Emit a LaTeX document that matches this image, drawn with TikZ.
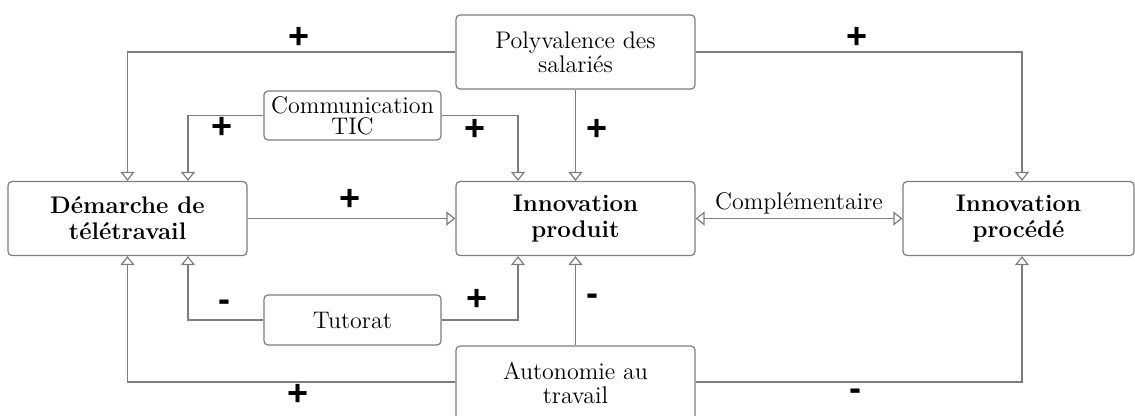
\documentclass[tikz,border=0pt]{standalone}
\usepackage{fontspec}
\newfontfamily\signfont{Liberation Sans}
\usetikzlibrary{arrows.meta,calc}
\definecolor{lncol}{RGB}{125,125,125}
\tikzset{
  box/.style={draw=lncol, line width=0.6pt, rounded corners=2pt, align=center,
    inner sep=0pt, font=\fontsize{12}{12}\selectfont},
  bigbox/.style={box, minimum width=119.5pt, minimum height=37pt},
  smallbox/.style={box, minimum width=88.5pt, minimum height=24.5pt},
  tip/.style={Triangle[open, length=4.5pt, width=7pt]},
  conn/.style={draw=lncol, line width=0.6pt, -{Triangle[open, length=4.5pt, width=7pt]}},
  sign/.style={font=\signfont\bfseries\fontsize{18}{18}\selectfont, inner sep=0pt, text=black},
}
\begin{document}
\begin{tikzpicture}[x=0.5pt, y=-0.5pt]
\useasboundingbox (0,0) rectangle (1135,416);
\clip (0,0) rectangle (1135,416);
% nodes
\node[bigbox] (poly) at (575.5,52) {Polyvalence des\\salariés};
\node[bigbox, font=\bfseries\fontsize{12}{13}\selectfont] (dem) at (127.5,218.5) {Démarche de\\télétravail};
\node[bigbox, font=\bfseries\fontsize{12}{13}\selectfont] (prod) at (575.5,218.5) {Innovation\\produit};
\node[bigbox, minimum width=115.5pt, font=\bfseries\fontsize{12}{13}\selectfont] (proc) at (1018.5,218.5) {Innovation\\procédé};
\node[smallbox, font=\fontsize{12}{10.5}\selectfont] (comm) at (352.5,115.5) {Communication\\TIC};
\node[smallbox, minimum height=25pt] (tut) at (352.5,320) {Tutorat};
\node[bigbox] (auto) at (575.5,383) {Autonomie au\\travail};
% connectors
\draw[conn] (poly.west) -| (dem.north);
\draw[conn] (poly.east) -| ($(proc.north)+(3.5,0)$);
\draw[conn] (poly.south) -- (prod.north);
\draw[conn] (comm.west) -| ($(dem.north)+(60.5,0)$);
\draw[conn] (comm.east) -| ($(prod.north)+(-57.5,0)$);
\draw[conn] (dem.east) -- (prod.west);
\draw[conn, {Triangle[open, length=4.5pt, width=7pt]}-{Triangle[open, length=4.5pt, width=7pt]}] (prod.east) -- node[above=1pt, font=\fontsize{12}{12}\selectfont, inner sep=1pt] (compl) {Complémentaire} (proc.west);
\draw[conn] (tut.west) -| ($(dem.south)+(60.5,0)$);
\draw[conn] (tut.east) -| ($(prod.south)+(-57.5,0)$);
\draw[conn] (auto.north) -- (prod.south);
\draw[conn] ($(auto.west)+(0,-1)$) -| (dem.south);
\draw[conn] ($(auto.east)+(0,-1)$) -| ($(proc.south)+(3.5,0)$);
% signs
\node[sign] (s1) at (299,38) {+};
\node[sign] (s2) at (222,128) {+};
\node[sign] (s3) at (475,130) {+};
\node[sign] (s4) at (597,130) {+};
\node[sign] (s5) at (857,38) {+};
\node[sign] (s6) at (350,200) {+};
\node[sign] (s7) at (477,300) {+};
\node[sign] (s8) at (298,395) {+};
\node[sign] (m1) at (224,306) {-};
\node[sign] (m2) at (592,300) {-};
\node[sign] (m3) at (855,395) {-};
\end{tikzpicture}
\end{document}
